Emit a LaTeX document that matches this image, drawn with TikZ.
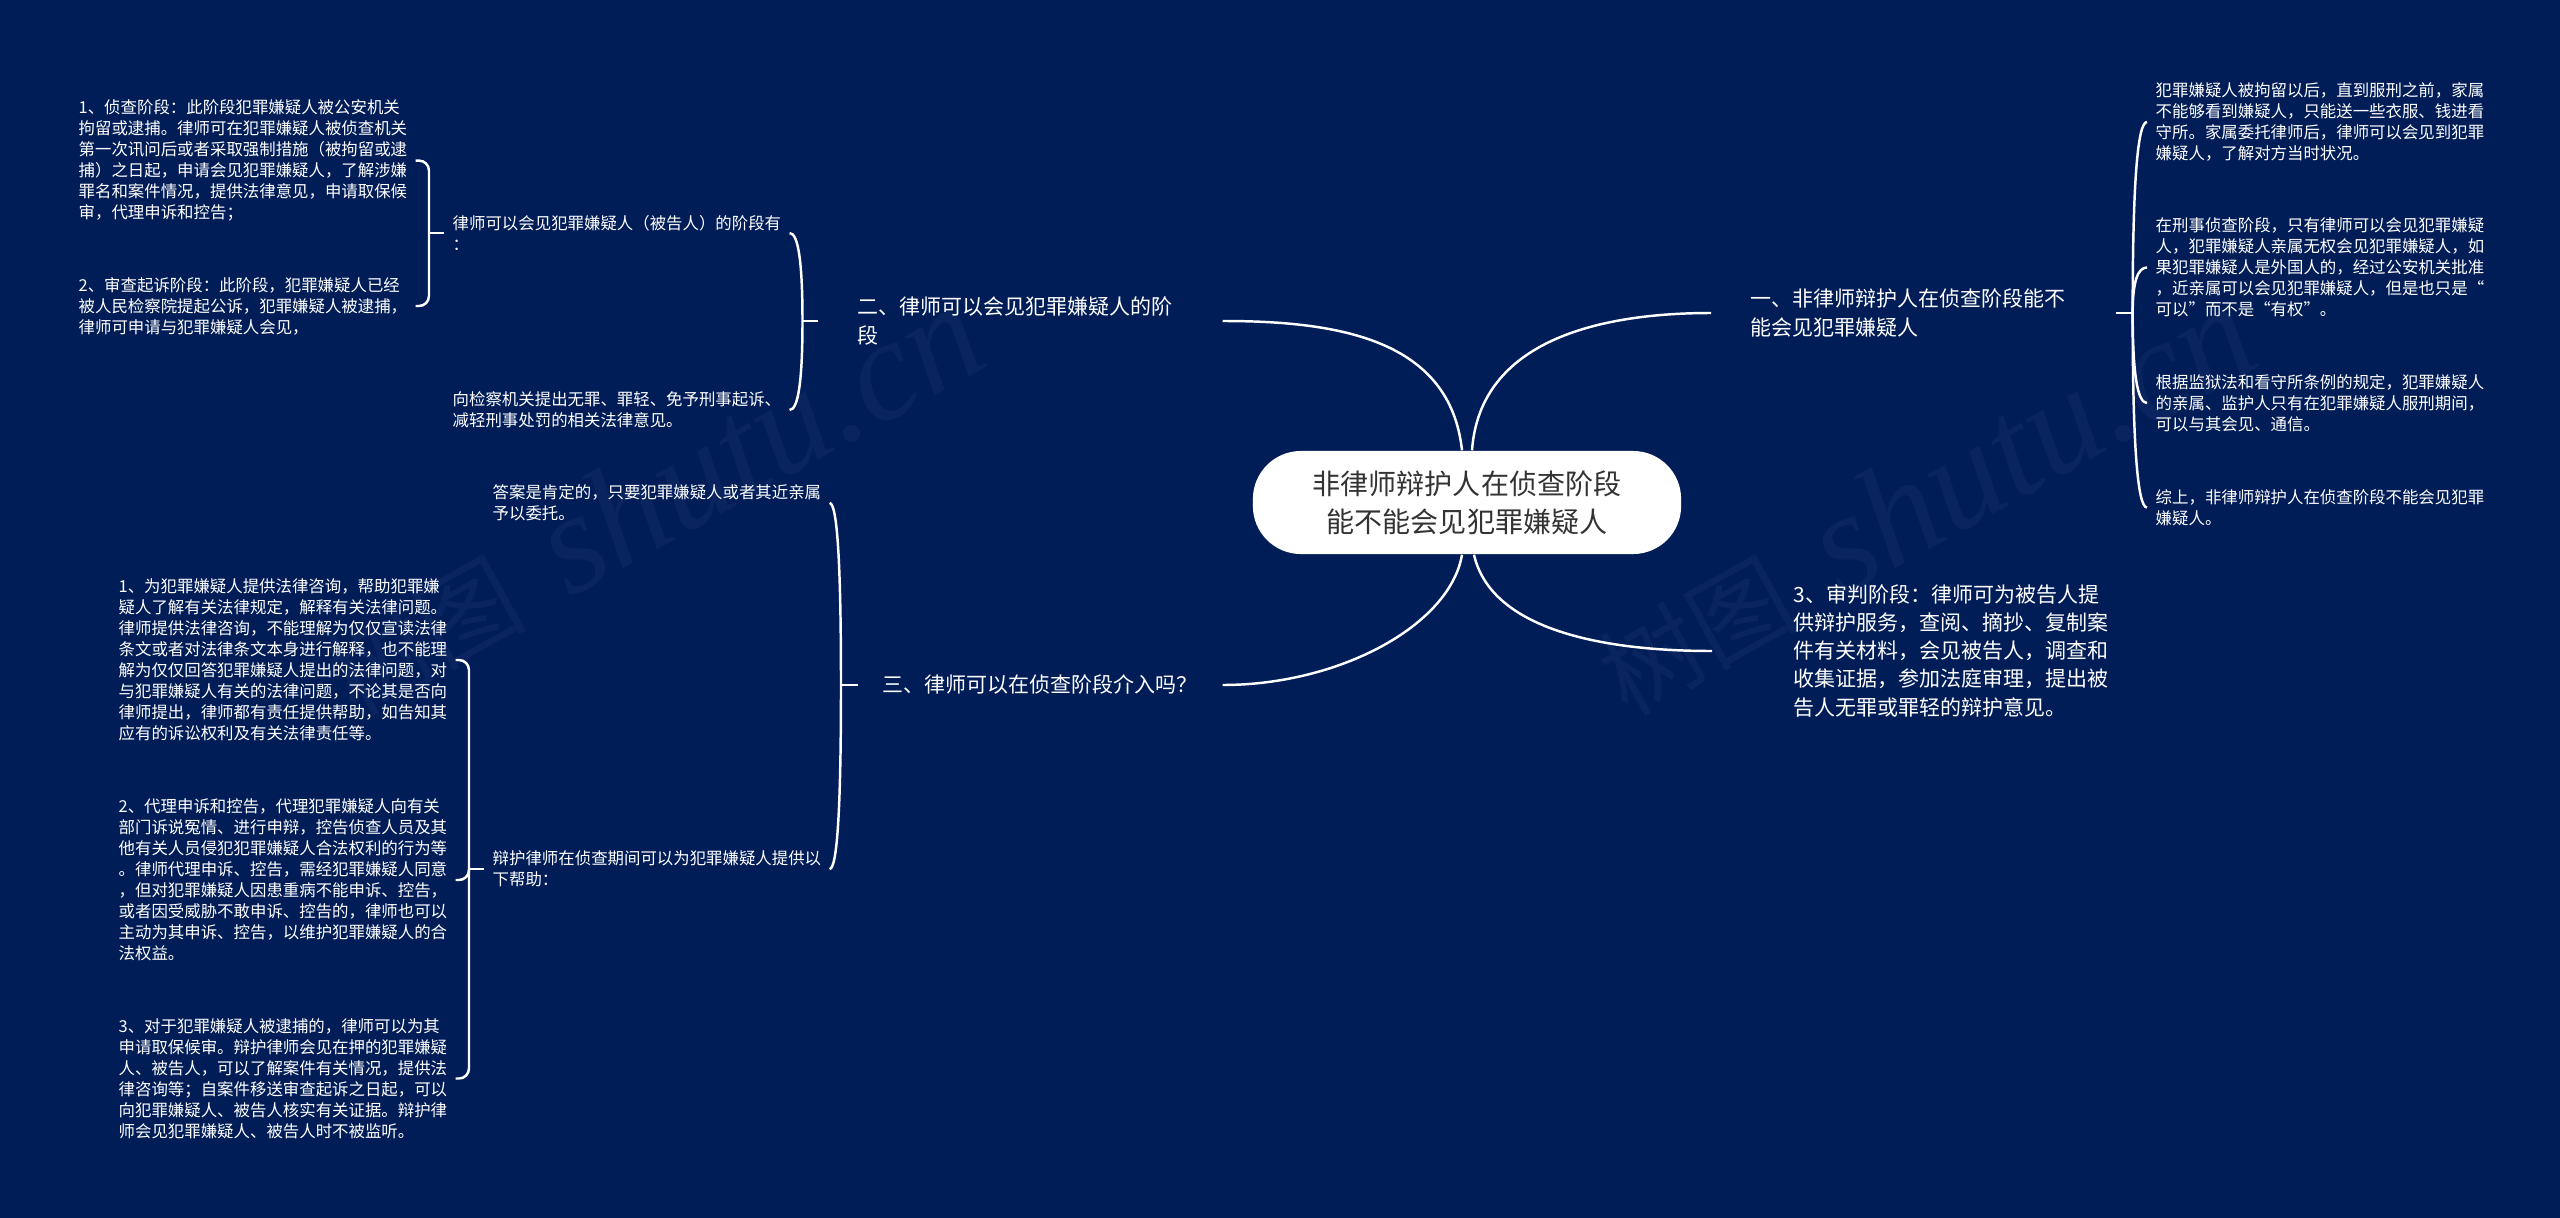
\documentclass[tikz,border=0pt]{standalone}
\usepackage{fontspec}
\setmainfont{Noto Sans CJK SC}
\newfontfamily\markfont{Liberation Serif}
\usetikzlibrary{calc}
\definecolor{bgblue}{HTML}{011D58}
\definecolor{markblue}{HTML}{09245F}
\definecolor{roottext}{HTML}{333333}
\tikzset{
    link/.style={white, line width=0.7pt},
    leaf/.style={text=white, text width=3.28cm, inner xsep=0.08cm, inner ysep=0pt, align=left, font=\fontsize{4.67}{5.97}\selectfont},
    head/.style={text=white, text width=3.25cm, inner xsep=0.39cm, inner ysep=0pt, align=left, font=\fontsize{5.97}{7.97}\selectfont},
    rootnode/.style={fill=white, text=roottext, minimum width=4.28cm, minimum height=1.03cm, rounded corners=0.48cm, inner sep=0pt, align=center, font=\fontsize{7.97}{10.8}\selectfont},
    wmark/.style={text=markblue, rotate=29, inner sep=0pt, font=\fontsize{28.4}{32}\selectfont},
}

\begin{document}
\begin{tikzpicture}[x=0.01cm, y=-0.01cm]
    \fill[bgblue] (0,0) rectangle (2560,1218);
    \useasboundingbox (0,0) rectangle (2560,1218);

    \node[wmark] (mark1) at (652,500) {树图\hspace{0.45cm}{\markfont\itshape\fontsize{41}{46}\selectfont shutu.cn}};
    \node[wmark] (mark2) at (1924,500) {树图\hspace{0.45cm}{\markfont\itshape\fontsize{41}{46}\selectfont shutu.cn}};

    \node[rootnode] (root) at (1467,502.5) {非律师辩护人在侦查阶段\\能不能会见犯罪嫌疑人};

    \node[head, anchor=west] (h1) at (1711,313) {一、非律师辩护人在侦查阶段能不\\能会见犯罪嫌疑人};
    \node[head, anchor=west] (h2) at (818,321) {二、律师可以会见犯罪嫌疑人的阶\\段};
    \node[head, anchor=west, text width=3.15cm, inner xsep=0.24cm] (h3) at (858,685) {三、律师可以在侦查阶段介入吗？};
    \node[head, anchor=west, text width=3.15cm, inner xsep=0.81cm] (h4) at (1712,651) {3、审判阶段：律师可为被告人提\\供辩护服务，查阅、摘抄、复制案\\件有关材料，会见被告人，调查和\\收集证据，参加法庭审理，提出被\\告人无罪或罪轻的辩护意见。};

    \node[leaf, anchor=west] (r1) at (2147,122) {犯罪嫌疑人被拘留以后，直到服刑之前，家属\\不能够看到嫌疑人，只能送一些衣服、钱进看\\守所。家属委托律师后，律师可以会见到犯罪\\嫌疑人，了解对方当时状况。};
    \node[leaf, anchor=west] (r2) at (2147,267.5) {在刑事侦查阶段，只有律师可以会见犯罪嫌疑\\人，犯罪嫌疑人亲属无权会见犯罪嫌疑人，如\\果犯罪嫌疑人是外国人的，经过公安机关批准\\，近亲属可以会见犯罪嫌疑人，但是也只是“\\可以”而不是“有权”。};
    \node[leaf, anchor=west] (r3) at (2147,403) {根据监狱法和看守所条例的规定，犯罪嫌疑人\\的亲属、监护人只有在犯罪嫌疑人服刑期间，\\可以与其会见、通信。};
    \node[leaf, anchor=west] (r4) at (2147,507.5) {综上，非律师辩护人在侦查阶段不能会见犯罪\\嫌疑人。};

    \node[leaf, anchor=west] (c1) at (444,233) {律师可以会见犯罪嫌疑人（被告人）的阶段有\\：};
    \node[leaf, anchor=west] (c2) at (444,410) {向检察机关提出无罪、罪轻、免予刑事起诉、\\减轻刑事处罚的相关法律意见。};
    \node[leaf, anchor=west] (c3) at (70,160.6) {1、侦查阶段：此阶段犯罪嫌疑人被公安机关\\拘留或逮捕。律师可在犯罪嫌疑人被侦查机关\\第一次讯问后或者采取强制措施（被拘留或逮\\捕）之日起，申请会见犯罪嫌疑人，了解涉嫌\\罪名和案件情况，提供法律意见，申请取保候\\审，代理申诉和控告；};
    \node[leaf, anchor=west] (c4) at (70,306) {2、审查起诉阶段：此阶段，犯罪嫌疑人已经\\被人民检察院提起公诉，犯罪嫌疑人被逮捕，\\律师可申请与犯罪嫌疑人会见，};

    \node[leaf, anchor=west] (d1) at (484,503) {答案是肯定的，只要犯罪嫌疑人或者其近亲属\\予以委托。};
    \node[leaf, anchor=west] (d2) at (484,869) {辩护律师在侦查期间可以为犯罪嫌疑人提供以\\下帮助：};
    \node[leaf, anchor=west] (d3) at (110,660) {1、为犯罪嫌疑人提供法律咨询，帮助犯罪嫌\\疑人了解有关法律规定，解释有关法律问题。\\律师提供法律咨询，不能理解为仅仅宣读法律\\条文或者对法律条文本身进行解释，也不能理\\解为仅仅回答犯罪嫌疑人提出的法律问题，对\\与犯罪嫌疑人有关的法律问题，不论其是否向\\律师提出，律师都有责任提供帮助，如告知其\\应有的诉讼权利及有关法律责任等。};
    \node[leaf, anchor=west] (d4) at (110,880) {2、代理申诉和控告，代理犯罪嫌疑人向有关\\部门诉说冤情、进行申辩，控告侦查人员及其\\他有关人员侵犯犯罪嫌疑人合法权利的行为等\\。律师代理申诉、控告，需经犯罪嫌疑人同意\\，但对犯罪嫌疑人因患重病不能申诉、控告，\\或者因受威胁不敢申诉、控告的，律师也可以\\主动为其申诉、控告，以维护犯罪嫌疑人的合\\法权益。};
    \node[leaf, anchor=west] (d5) at (110,1078.5) {3、对于犯罪嫌疑人被逮捕的，律师可以为其\\申请取保候审。辩护律师会见在押的犯罪嫌疑\\人、被告人，可以了解案件有关情况，提供法\\律咨询等；自案件移送审查起诉之日起，可以\\向犯罪嫌疑人、被告人核实有关证据。辩护律\\师会见犯罪嫌疑人、被告人时不被监听。};

    \draw[link] ([xshift=-0.05cm]root.north) .. controls (1450,340) and (1340,321) .. (h2.east);
    \draw[link] ([xshift=0.05cm]root.north) .. controls (1480,340) and (1600,313) .. (h1.west);
    \draw[link] ([xshift=-0.05cm]root.south) .. controls (1450,625) and (1340,685) .. (h3.east);
    \draw[link] ([xshift=0.07cm]root.south) .. controls (1490,625) and (1590,651) .. (h4.west);

    \coordinate (s1) at ([xshift=0.17cm]h1.east);
    \coordinate (s2) at ([xshift=-0.155cm]h2.west);
    \coordinate (s3) at ([xshift=-0.17cm]h3.west);
    \coordinate (s4) at ([xshift=-0.15cm]c1.west);
    \coordinate (s5) at ([xshift=-0.15cm]d2.west);

    \draw[link] (h1.east) -- (s1);
    \draw[link] (h2.west) -- (s2);
    \draw[link] (h3.west) -- (s3);
    \draw[link] (c1.west) -- (s4);
    \draw[link] (d2.west) -- (s5);

    \foreach \k in {r1,r2,r3,r4}
        \draw[link] (s1) .. controls ($(s1)!0.67!(s1 |- \k.west)$) and ($(\k.west)!0.67!(s1 |- \k.west)$) .. (\k.west);
    \foreach \k in {c1,c2}
        \draw[link] (s2) .. controls ($(s2)!0.67!(s2 |- \k.east)$) and ($(\k.east)!0.67!(s2 |- \k.east)$) .. (\k.east);
    \foreach \k in {d1,d2}
        \draw[link] (s3) .. controls ($(s3)!0.67!(s3 |- \k.east)$) and ($(\k.east)!0.67!(s3 |- \k.east)$) .. (\k.east);
    \foreach \k in {c3,c4}
        \draw[link, rounded corners=0.1cm] (\k.east) -| (s4);
    \foreach \k in {d3,d4,d5}
        \draw[link, rounded corners=0.1cm] (\k.east) -| (s5);
\end{tikzpicture}
\end{document}
